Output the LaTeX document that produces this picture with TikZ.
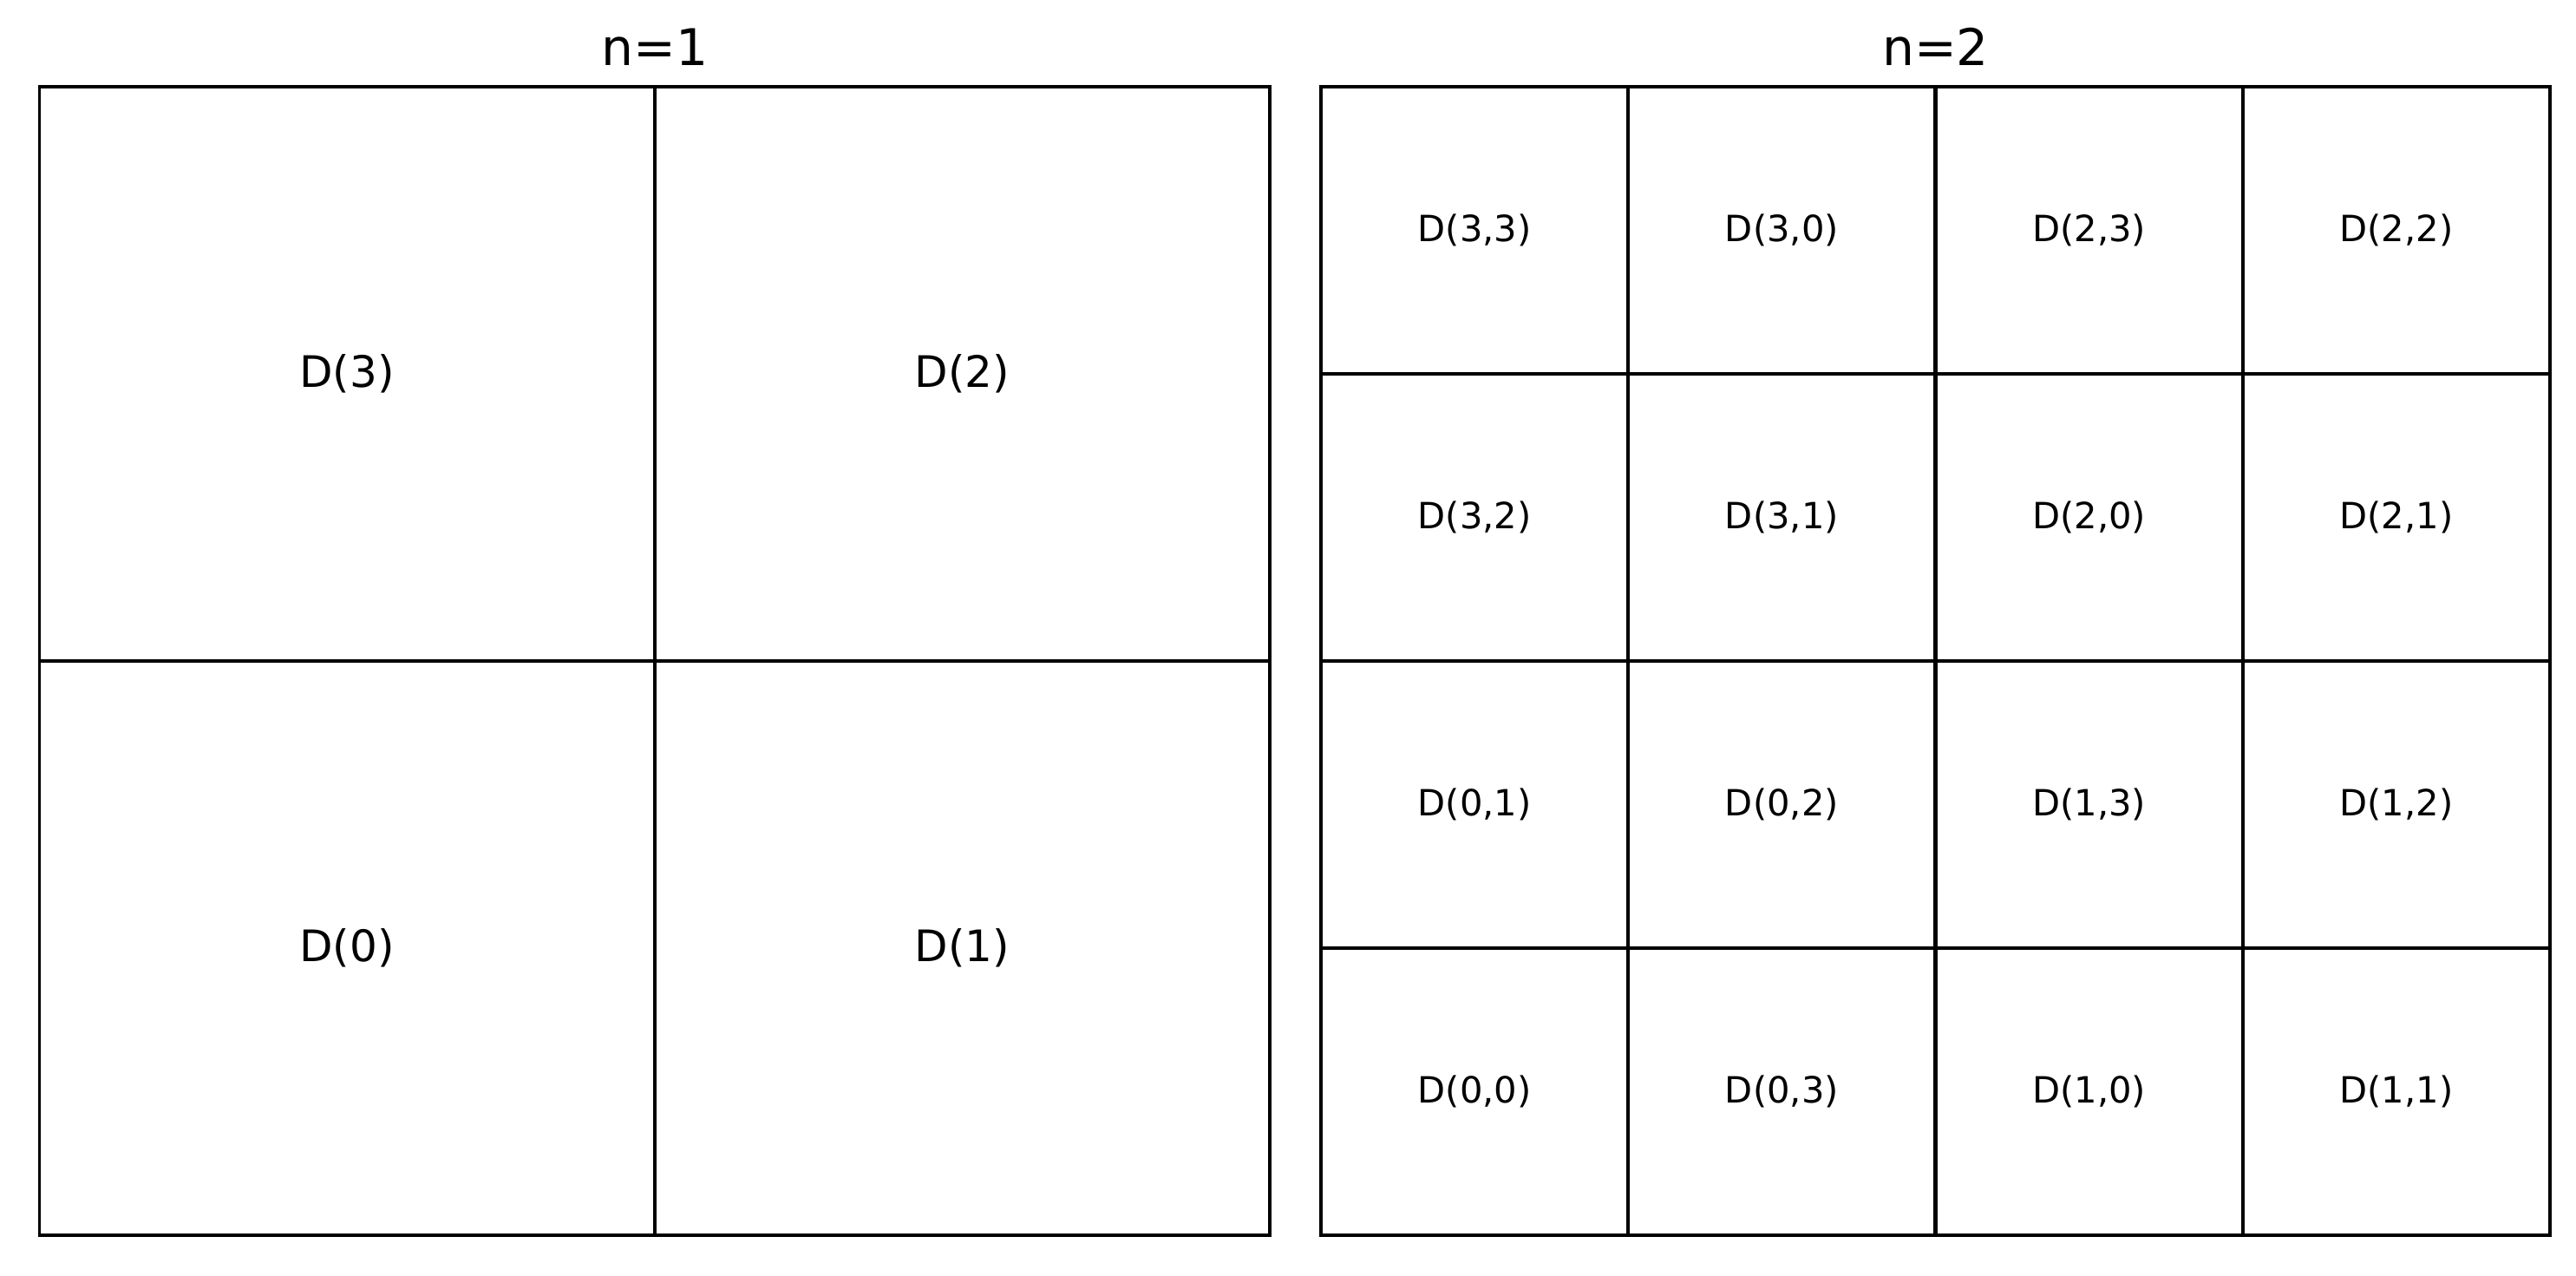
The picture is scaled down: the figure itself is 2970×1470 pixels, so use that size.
\documentclass[tikz,border=0pt]{standalone}
\usepackage{fontspec}
\setmainfont{DejaVu Sans}
\begin{document}
\begin{tikzpicture}[x=0.24pt,y=0.24pt,
  panel/.style={line width=0.8pt},
  split/.style={line width=1pt},
  biglab/.style={font=\fontsize{12}{14}\selectfont},
  smalllab/.style={font=\fontsize{10}{12}\selectfont},
  ttl/.style={font=\fontsize{14}{17}\selectfont,anchor=base}]
\useasboundingbox (0,0) rectangle (2970,1470);

% n=1
\draw[split] (754.75,46) -- (754.75,1370);
\draw[split] (45.5,708) -- (1464,708);
\draw[panel] (45.5,46) rectangle (1464,1370);
\node[ttl] (t1) at (754.75,1394) {n=1};
\foreach \a/\c/\r in {3/0/1,2/1/1,0/0/0,1/1/0}
  \node[biglab] (d\a) at ({45.5+354.6*(2*\c+1)},{46+331*(2*\r+1)}) {D(\a)};

% n=2
\foreach \i in {1,2,3} {
  \draw[split] ({1523+354.25*\i},46) -- ({1523+354.25*\i},1370);
  \draw[split] (1523,{46+331*\i}) -- (2940,{46+331*\i});
}
\draw[panel] (1523,46) rectangle (2940,1370);
\node[ttl] (t2) at (2231.5,1394) {n=2};
\foreach \a/\b/\c/\r in {3/3/0/3,3/0/1/3,2/3/2/3,2/2/3/3,
                         3/2/0/2,3/1/1/2,2/0/2/2,2/1/3/2,
                         0/1/0/1,0/2/1/1,1/3/2/1,1/2/3/1,
                         0/0/0/0,0/3/1/0,1/0/2/0,1/1/3/0}
  \node[smalllab] (d\a\b) at ({1523+354.25*(\c+0.5)},{46+331*(\r+0.5)}) {D(\a,\b)};
\end{tikzpicture}
\end{document}
